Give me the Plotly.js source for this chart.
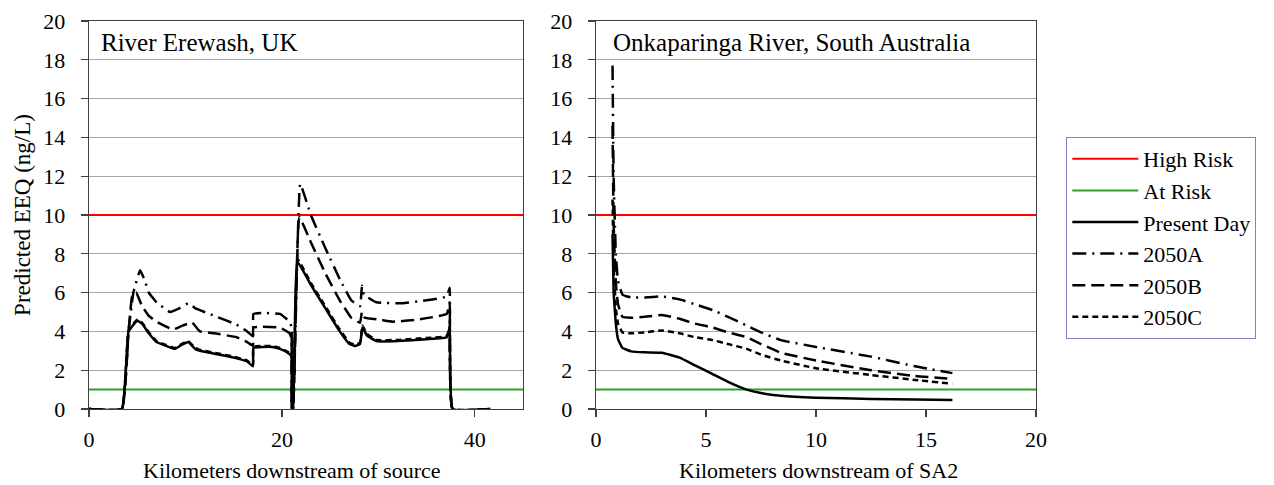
<!DOCTYPE html>
<html>
<head>
<meta charset="utf-8">
<script src="https://cdn.plot.ly/plotly-3.0.1.min.js"></script>
<style>html,body{margin:0;padding:0;background:#fff;}#chart{width:1274px;height:485px;}</style>
</head>
<body>
<div id="chart"></div>
<script>
// ---- Data: River Erewash, UK (left panel) ----
const ereX_present = [0, 3.4, 4.1, 5.0, 5.5, 6.2, 7.0, 8.0, 8.9, 9.6, 10.3, 11.0, 11.5, 13, 15, 16.4, 17.0, 17.05, 18, 19, 19.8, 20.6, 21.0, 21.05, 21.15, 21.6, 23, 24.5, 26, 27.0, 27.6, 28.1, 28.35, 28.8, 29.8, 32, 35, 37.1, 37.4, 37.7, 41.6];
const ereY_present = [0, 0, 4.0, 4.55, 4.4, 3.9, 3.45, 3.25, 3.1, 3.3, 3.45, 3.1, 3.0, 2.85, 2.65, 2.45, 2.2, 3.15, 3.2, 3.2, 3.1, 2.9, 2.7, 0, 0, 7.6, 6.4, 5.2, 4.0, 3.35, 3.25, 3.35, 4.2, 3.8, 3.5, 3.5, 3.6, 3.7, 4.2, 0, 0];

const ereX_A = [0, 3.4, 4.1, 4.6, 5.3, 5.8, 6.2, 7.0, 8.4, 9.4, 10.3, 11.0, 13, 15.3, 16.4, 17.0, 17.05, 18, 19.8, 20.8, 21.0, 21.05, 21.15, 21.9, 23, 24.5, 26, 27.2, 28.1, 28.3, 28.5, 29.8, 32.5, 35, 37.1, 37.4, 37.7, 41.6];
const ereY_A = [0, 0, 4.0, 6.0, 7.15, 6.6, 6.0, 5.5, 5.0, 5.2, 5.45, 5.2, 4.8, 4.35, 4.0, 3.75, 4.9, 4.95, 4.9, 4.5, 4.2, 0, 0, 11.6, 10.0, 8.3, 6.7, 5.6, 5.3, 6.35, 5.9, 5.5, 5.45, 5.6, 5.8, 6.25, 0, 0];

const ereX_B = [0, 3.4, 4.1, 4.5, 4.9, 5.5, 6.2, 7.0, 8.7, 9.7, 10.7, 11.5, 13, 15.3, 16.4, 17.0, 17.05, 19.8, 20.8, 21.0, 21.05, 21.15, 21.8, 23, 24.5, 26, 27.2, 28.1, 28.3, 28.6, 30.2, 31.5, 34, 37.1, 37.4, 37.7, 41.6];
const ereY_B = [0, 0, 4.0, 5.9, 6.0, 5.3, 4.8, 4.5, 4.1, 4.3, 4.45, 4.0, 3.9, 3.7, 3.45, 3.25, 4.2, 4.2, 3.9, 3.6, 0, 0, 9.9, 8.6, 7.0, 5.6, 4.7, 4.45, 5.0, 4.7, 4.6, 4.5, 4.6, 4.9, 5.5, 0, 0];

const ereX_C = [0, 3.4, 4.1, 5.0, 5.5, 6.2, 7.0, 8.0, 8.9, 9.6, 10.3, 11.0, 11.5, 13, 15, 16.4, 17.0, 17.05, 18, 19, 19.8, 20.6, 21.0, 21.05, 21.15, 21.65, 23, 24.5, 26, 27.0, 27.6, 28.1, 28.35, 28.8, 29.8, 32, 35, 37.1, 37.4, 37.7, 41.6];
const ereY_C = [0, 0, 4.05, 4.6, 4.45, 3.95, 3.5, 3.3, 3.15, 3.35, 3.5, 3.15, 3.05, 2.9, 2.7, 2.5, 2.25, 3.2, 3.25, 3.25, 3.15, 2.95, 2.75, 0, 0, 7.7, 6.5, 5.3, 4.1, 3.42, 3.32, 3.42, 4.3, 3.88, 3.56, 3.56, 3.66, 3.76, 4.25, 0, 0];

// ---- Data: Onkaparinga River, South Australia (right panel) ----
const onkX = [0.75, 0.8, 0.9, 1.0, 1.2, 1.6, 2.2, 3.0, 3.8, 4.5, 5.3, 6.0, 6.85, 7.5, 8.4, 10, 12.5, 14.5, 16.2];
const onkY_present = [9.0, 6.0, 4.4, 3.6, 3.15, 2.97, 2.92, 2.9, 2.65, 2.25, 1.8, 1.4, 1.0, 0.82, 0.68, 0.58, 0.52, 0.49, 0.47];
const onkY_A = [17.7, 12.0, 8.0, 6.6, 5.9, 5.75, 5.75, 5.8, 5.65, 5.4, 5.1, 4.75, 4.3, 3.95, 3.55, 3.2, 2.7, 2.2, 1.85];
const onkY_B = [14.6, 9.5, 6.5, 5.4, 4.75, 4.7, 4.75, 4.85, 4.65, 4.4, 4.2, 3.95, 3.7, 3.35, 2.9, 2.5, 2.0, 1.7, 1.55];
const onkY_C = [10.8, 7.5, 5.2, 4.4, 3.95, 3.9, 3.95, 4.05, 3.9, 3.7, 3.55, 3.35, 3.1, 2.8, 2.5, 2.1, 1.75, 1.5, 1.3];

// ---- Thresholds ----
const highRisk = 10;
const atRisk = 1;
const leftRange = [0, 45];
const rightRange = [0, 20];

const seriesNames = ["High Risk", "At Risk", "Present Day", "2050A", "2050B", "2050C"];
const yTicks = [0, 2, 4, 6, 8, 10, 12, 14, 16, 18, 20];
const leftXTicks = [0, 20, 40];
const rightXTicks = [0, 5, 10, 15, 20];

const FONT = "Liberation Serif, Times New Roman, serif";
const styles = {
  "High Risk": {color: "#ff0000", width: 2, dash: "solid"},
  "At Risk": {color: "#2ca02c", width: 2, dash: "solid"},
  "Present Day": {color: "#000000", width: 2.5, dash: "solid"},
  "2050A": {color: "#000000", width: 2.5, dash: "14px,6px,2px,6px"},
  "2050B": {color: "#000000", width: 2.5, dash: "13px,6px"},
  "2050C": {color: "#000000", width: 2.5, dash: "6px,4px"}
};

function tr(name, x, y, xa, ya, show) {
  return {
    type: "scatter", mode: "lines", name: name, x: x, y: y,
    xaxis: xa, yaxis: ya, legendgroup: name, showlegend: show,
    line: {color: styles[name].color, width: styles[name].width, dash: styles[name].dash, shape: "spline", smoothing: 0.3},
    hoverinfo: "skip"
  };
}
function thr(name, val, range, xa, ya, show) {
  const t = tr(name, range, [val, val], xa, ya, show);
  t.line.shape = "linear";
  return t;
}

const data = [
  thr(seriesNames[0], highRisk, leftRange, "x", "y", true),
  thr(seriesNames[1], atRisk, leftRange, "x", "y", true),
  tr(seriesNames[2], ereX_present, ereY_present, "x", "y", true),
  tr(seriesNames[3], ereX_A, ereY_A, "x", "y", true),
  tr(seriesNames[4], ereX_B, ereY_B, "x", "y", true),
  tr(seriesNames[5], ereX_C, ereY_C, "x", "y", true),
  thr(seriesNames[0], highRisk, rightRange, "x2", "y2", false),
  thr(seriesNames[1], atRisk, rightRange, "x2", "y2", false),
  tr(seriesNames[5], onkX, onkY_C, "x2", "y2", false),
  tr(seriesNames[4], onkX, onkY_B, "x2", "y2", false),
  tr(seriesNames[3], onkX, onkY_A, "x2", "y2", false),
  tr(seriesNames[2], onkX, onkY_present, "x2", "y2", false)
];

const TICKFONT = {family: FONT, size: 22, color: "#000"};
const axisCommon = {
  showline: true, linecolor: "#404040", linewidth: 1.3, mirror: true,
  ticks: "outside", ticklen: 7, tickcolor: "#404040", tickwidth: 1.3,
  zeroline: false, tickfont: TICKFONT
};
const yCommon = Object.assign({}, axisCommon, {
  range: [0, 20], tickvals: yTicks, showgrid: true, gridcolor: "#a6a6a6", gridwidth: 1.3,
  ticklabelstandoff: 11
});

const layout = {
  width: 1274, height: 485,
  margin: {l: 89, r: 238, t: 21, b: 76},
  paper_bgcolor: "#fff", plot_bgcolor: "#fff",
  font: {family: FONT, size: 22, color: "#000"},
  showlegend: true,
  legend: {
    x: 1.032, xanchor: "left", y: 0.701, yanchor: "top",
    bgcolor: "#fff", bordercolor: "#8e7cc3", borderwidth: 1,
    font: {family: FONT, size: 22, color: "#000"},
    traceorder: "grouped", tracegroupgap: 0, itemwidth: 66
  },
  xaxis: Object.assign({}, axisCommon, {domain: [0, 0.4583], range: leftRange, tickvals: leftXTicks, showgrid: false, anchor: "y", ticklabelstandoff: 3}),
  yaxis: Object.assign({}, yCommon, {domain: [0, 1], anchor: "x",
    title: {text: "Predicted EEQ (ng/L)", font: {family: FONT, size: 23, color: "#000"}, standoff: 6}}),
  xaxis2: Object.assign({}, axisCommon, {domain: [0.5354, 1], range: rightRange, tickvals: rightXTicks, showgrid: false, anchor: "y2", ticklabelstandoff: 3}),
  yaxis2: Object.assign({}, yCommon, {domain: [0, 1], anchor: "x2"}),
  annotations: [
    {text: "River Erewash, UK", xref: "x domain", yref: "y domain", x: 0.022, y: 0.945, xanchor: "left", yanchor: "middle", showarrow: false, font: {family: FONT, size: 25, color: "#000"}},
    {text: "Onkaparinga River, South Australia", xref: "x2 domain", yref: "y2 domain", x: 0.033, y: 0.945, xanchor: "left", yanchor: "middle", showarrow: false, font: {family: FONT, size: 25, color: "#000"}},
    {text: "Kilometers downstream of source", xref: "paper", yref: "paper", x: (292 - 89) / 947, y: -0.158, xanchor: "center", yanchor: "middle", showarrow: false, font: {family: FONT, size: 22, color: "#000"}},
    {text: "Kilometers downstream of SA2", xref: "paper", yref: "paper", x: (818 - 89) / 947, y: -0.158, xanchor: "center", yanchor: "middle", showarrow: false, font: {family: FONT, size: 22, color: "#000"}}
  ]
};

Plotly.newPlot("chart", data, layout, {staticPlot: true, displayModeBar: false});
</script>
</body>
</html>
